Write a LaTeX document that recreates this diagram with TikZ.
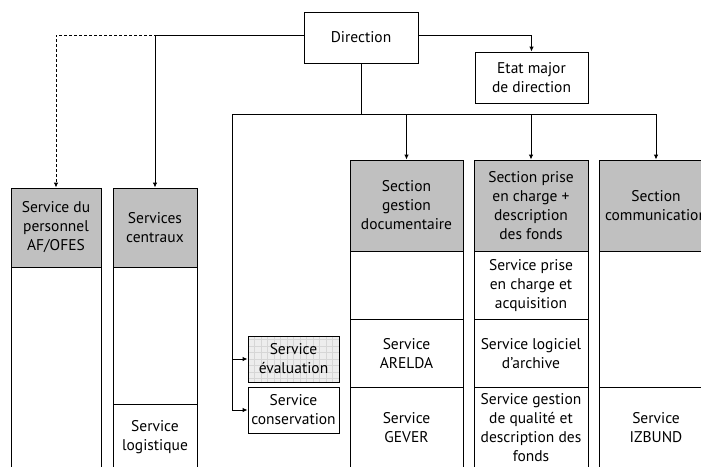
\documentclass[tikz,border=0pt]{standalone}
\usepackage{fontspec}
\setmainfont{PT Sans}
\usetikzlibrary{arrows.meta}
\definecolor{hdrgray}{HTML}{C0C0C0}
\definecolor{gridfill}{HTML}{EDEDED}
\definecolor{gridline}{HTML}{D6D6D6}
\begin{document}
\begin{tikzpicture}[x=1pt,y=-1pt,
  every node/.style={font=\fontsize{15.5}{19}\selectfont, align=center, inner sep=0pt},
  box/.style={draw=black, line width=0.9pt, fill=white},
  hdr/.style={draw=black, line width=0.9pt, fill=hdrgray},
  cell/.style={draw=black, line width=0.9pt, fill=white},
  conn/.style={line width=0.9pt, draw=black},
  arr/.style={conn, -{Latex[length=5pt,width=4.5pt]}}
]
\useasboundingbox (0,0) rectangle (701,466);
\clip (0,0) rectangle (701,466);
\fill[white] (0,0) rectangle (701,466);

% top boxes
\node[box, minimum width=114pt, minimum height=51pt] (dir) at (361,37.5) {Direction};
\node[box, minimum width=113pt, minimum height=51pt] (etat) at (531.5,77.5) {Etat major\\de direction};

% left columns
\node[cell, minimum width=90pt, minimum height=220pt, anchor=north] (perscol) at (56,267) {};
\node[hdr, minimum width=90pt, minimum height=79pt] (pers) at (56,227.5) {Service du\\personnel\\AF/OFES};

\node[cell, minimum width=84pt, minimum height=137pt, anchor=north] (centcol) at (155,267) {};
\node[cell, minimum width=84pt, minimum height=80pt, anchor=north] (logi) at (155,404) {};
\node[hdr, minimum width=84pt, minimum height=79pt] (cent) at (155,227.5) {Services\\centraux};
\node (logit) at (155,437) {Service\\logistique};

% section columns
\node[cell, minimum width=113pt, minimum height=68pt, anchor=north] (g1) at (406.5,251) {};
\node[cell, minimum width=113pt, minimum height=68pt, anchor=north] (g2) at (406.5,319) {Service\\ARELDA};
\node[cell, minimum width=113pt, minimum height=90pt, anchor=north] (g3) at (406.5,387) {};
\node[hdr, minimum width=113pt, minimum height=91pt] (sec1) at (406.5,205.5) {Section\\gestion\\documentaire};
\node (g3t) at (406.5,428) {Service\\GEVER};

\node[cell, minimum width=114pt, minimum height=68pt, anchor=north] (p1) at (531,251) {Service prise\\en charge et\\acquisition};
\node[cell, minimum width=114pt, minimum height=68pt, anchor=north] (p2) at (531,319) {Service logiciel\\d’archive};
\node[cell, minimum width=114pt, minimum height=90pt, anchor=north] (p3) at (531,387) {};
\node[hdr, minimum width=114pt, minimum height=91pt] (sec2) at (531,205.5) {Section prise\\en charge +\\description\\des fonds};
\node (p3t) at (531,428) {Service gestion\\de qualité et\\description des\\fonds};

\node[cell, minimum width=114pt, minimum height=136pt, anchor=north] (c1) at (656,251) {};
\node[cell, minimum width=114pt, minimum height=90pt, anchor=north] (c2) at (656,387) {};
\node[hdr, minimum width=114pt, minimum height=91pt] (sec3) at (656,205.5) {Section\\communication};
\node (c2t) at (656,428) {Service\\IZBUND};

% middle service boxes
\node[box, fill=gridfill, minimum width=91pt, minimum height=46pt,
  path picture={\draw[gridline, line width=0.4pt, step=6.5pt]
    (path picture bounding box.south west) grid (path picture bounding box.north east);}] (eval) at (293.5,359) {};
\node (evalt) at (293.5,359) {Service\\évaluation};
\node[box, minimum width=91pt, minimum height=46pt] (cons) at (293.5,410) {Service\\conservation};

% connectors
\coordinate (j1) at (157,35);
\coordinate (busL) at (232,114);
\coordinate (busR) at (656,114);
\draw[conn] (dir.west |- j1) -- (j1);
\draw[arr, dashed, dash pattern=on 3pt off 2pt] (j1) -| (pers.north);
\draw[arr] (j1) -- (cent.north |- j1) -- (cent.north);
\draw[arr] (dir.east |- j1) -| (etat.north);
\draw[conn] (dir.south) -- (dir.south |- busL);
\draw[conn] (busL) -- (busR);
\draw[arr] (sec1.north |- busL) -- (sec1.north);
\draw[arr] (sec2.north |- busL) -- (sec2.north);
\draw[arr] (busR) -- (sec3.north);
\draw[arr] (busL) |- (eval.west);
\draw[arr] (busL) |- (cons.west);
\end{tikzpicture}
\end{document}
